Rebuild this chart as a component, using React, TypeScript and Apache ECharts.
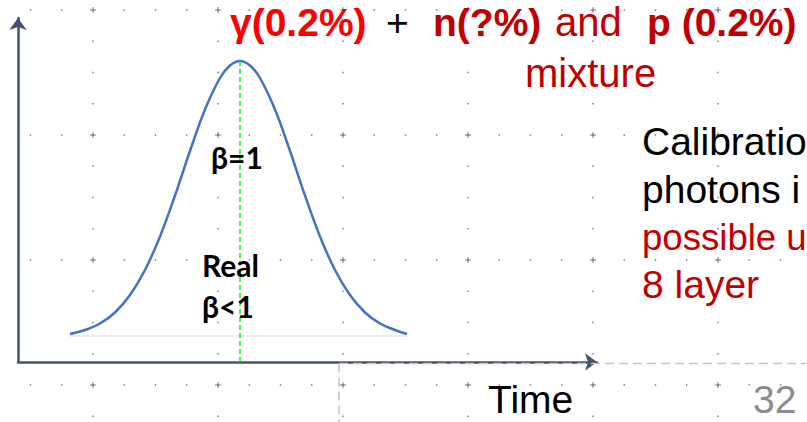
import React, { useEffect, useRef } from 'react';
import * as echarts from 'echarts';

// Gaussian-like time distribution (x: time units, y: amplitude units)
const curveX = [10.4, 13.4, 16.4, 19.4, 22.4, 25.4, 28.4, 31.4, 34.4, 37.4, 40.4, 42.4, 44.4, 46.4, 48.4, 51.4, 54.4, 57.4, 60.4, 63.4, 66.4, 69.4, 72.4, 75.4, 77.8];
const curveY = [5.6, 6.4, 7.7, 9.9, 13.4, 18.4, 25.1, 33.3, 42.2, 50.5, 56.8, 59.3, 60.2, 59.3, 56.8, 50.5, 42.2, 33.3, 25.1, 18.4, 13.4, 9.9, 7.7, 6.4, 5.6];
const baselineX = [10.4, 77.8];
const baselineY = [5.2, 5.2];
const betaLineX = [44.4, 44.4];
const betaLineY = [0, 60.2];
const xMax = 115.8;
const yMax = 68.8;

const headerParts = ['γ(0.2%)', '+', 'n(?%)', 'and', 'p (0.2%)'];
const headerLine2 = 'mixture';
const sideLines = ['Calibratio', 'photons i', 'possible u', '8 layer'];
const betaLabels = ['β=1', 'Real', 'β<1'];
const axisTitle = 'Time';
const pageNumber = '32';

const SANS = '"Liberation Sans", Arial, sans-serif';
const CAL = 'Lato, "Open Sans", sans-serif';
const DARK_RED = '#C00000';

function txt(text: string, x: number, baseline: number, size: number, color: string, bold: boolean, family: string, ratio: number) {
  return {
    type: 'text',
    z: 100,
    x,
    y: baseline - size * ratio,
    style: {
      text,
      fill: color,
      fontSize: size,
      fontFamily: family,
      fontWeight: bold ? 'bold' : 'normal',
      align: 'left',
      verticalAlign: 'middle',
      textAlign: 'left',
      textVerticalAlign: 'middle',
    },
  };
}

export default function App() {
  const ref = useRef<HTMLDivElement>(null);
  useEffect(() => {
    if (!ref.current) return;
    const chart = echarts.init(ref.current, undefined, { renderer: 'svg' });

    // decorative slide grid (dots)
    const deco: any[] = [];
    const majorRows = [10, 135, 260, 385];
    const majorCols = [93, 218, 343, 468, 593, 718];
    const dot = { stroke: '#7a7a7a', lineWidth: 1.4, lineDash: [1.4, 29.85] };
    majorRows.forEach((y) => {
      deco.push({ type: 'line', z: 0, silent: true, shape: { x1: -1.45, y1: y, x2: 807, y2: y }, style: { ...dot } });
    });
    majorCols.forEach((x) => {
      deco.push({ type: 'line', z: 0, silent: true, shape: { x1: x, y1: -21.95, x2: x, y2: 422 }, style: { ...dot } });
    });
    majorRows.forEach((y) => {
      majorCols.forEach((x) => {
        deco.push({ type: 'line', z: 0, silent: true, shape: { x1: x - 3, y1: y, x2: x + 3, y2: y }, style: { stroke: '#7a7a7a', lineWidth: 1 } });
        deco.push({ type: 'line', z: 0, silent: true, shape: { x1: x, y1: y - 3, x2: x, y2: y + 3 }, style: { stroke: '#7a7a7a', lineWidth: 1 } });
      });
    });
    // light dashed table border
    deco.push({ type: 'line', z: 1, silent: true, shape: { x1: 339, y1: 363.5, x2: 807, y2: 363.5 }, style: { stroke: '#c4c4c4', lineWidth: 1.5, lineDash: [9, 5] } });
    deco.push({ type: 'line', z: 1, silent: true, shape: { x1: 339, y1: 363.5, x2: 339, y2: 422 }, style: { stroke: '#c4c4c4', lineWidth: 1.5, lineDash: [9, 5] } });

    const R = 0.3465;
    const RL = 0.387;
    const texts = [
      txt(headerParts[0], 230, 36, 39, '#FF0000', true, SANS, R),
      txt(headerParts[1], 386, 36, 39, '#000000', false, SANS, R),
      txt(headerParts[2], 433, 36, 39, DARK_RED, true, SANS, R),
      txt(headerParts[3], 555, 36, 40, DARK_RED, false, SANS, R),
      txt(headerParts[4], 647, 36, 39, DARK_RED, true, SANS, R),
      txt(headerLine2, 525, 87, 40, DARK_RED, false, SANS, R),
      txt(sideLines[0], 642, 155, 39, '#000000', false, SANS, R),
      txt(sideLines[1], 642, 203, 39, '#000000', false, SANS, R),
      txt(sideLines[2], 642, 250, 36.6, DARK_RED, false, SANS, R),
      txt(sideLines[3], 642, 298, 39, DARK_RED, false, SANS, R),
      txt(axisTitle, 488, 413.5, 39, '#000000', false, SANS, R),
      txt(pageNumber, 753, 413.5, 39, '#8c8c8c', false, SANS, R),
      txt(betaLabels[0], 211, 169, 30, '#000000', true, CAL, RL),
      txt(betaLabels[1], 202, 277, 30, '#000000', true, CAL, RL),
      txt(betaLabels[2], 202, 318, 30, '#000000', true, CAL, RL),
    ];

    const axisLine = {
      show: true,
      symbol: ['none', 'arrow'],
      symbolSize: [13, 12],
      lineStyle: { color: '#44546A', width: 2.5 },
    };

    chart.setOption({
      animation: false,
      backgroundColor: '#ffffff',
      grid: { left: 18, top: 18, right: 210, bottom: 60, containLabel: false },
      xAxis: {
        type: 'value',
        min: 0,
        max: xMax,
        axisLine,
        axisTick: { show: false },
        axisLabel: { show: false },
        splitLine: { show: false },
      },
      yAxis: {
        type: 'value',
        min: 0,
        max: yMax,
        axisLine,
        axisTick: { show: false },
        axisLabel: { show: false },
        splitLine: { show: false },
      },
      series: [
        {
          name: 'baseline',
          type: 'line',
          data: baselineX.map((x, i) => [x, baselineY[i]]),
          symbol: 'none',
          lineStyle: { color: '#d9d9d9', width: 1 },
          z: 2,
        },
        {
          name: 'distribution',
          type: 'line',
          data: curveX.map((x, i) => [x, curveY[i]]),
          smooth: 0.4,
          symbol: 'none',
          lineStyle: { color: '#4472C4', width: 2.5 },
          z: 3,
        },
        {
          name: 'beta=1',
          type: 'line',
          data: betaLineX.map((x, i) => [x, betaLineY[i]]),
          symbol: 'none',
          lineStyle: { color: '#00ff00', width: 1.5, type: [5, 3] },
          z: 4,
        },
      ],
      graphic: { elements: [...deco, ...texts] },
    });
    return () => chart.dispose();
  }, []);
  return <div ref={ref} style={{ position: 'absolute', left: 0, top: 0, width: 807, height: 422, background: '#fff' }} />;
}
